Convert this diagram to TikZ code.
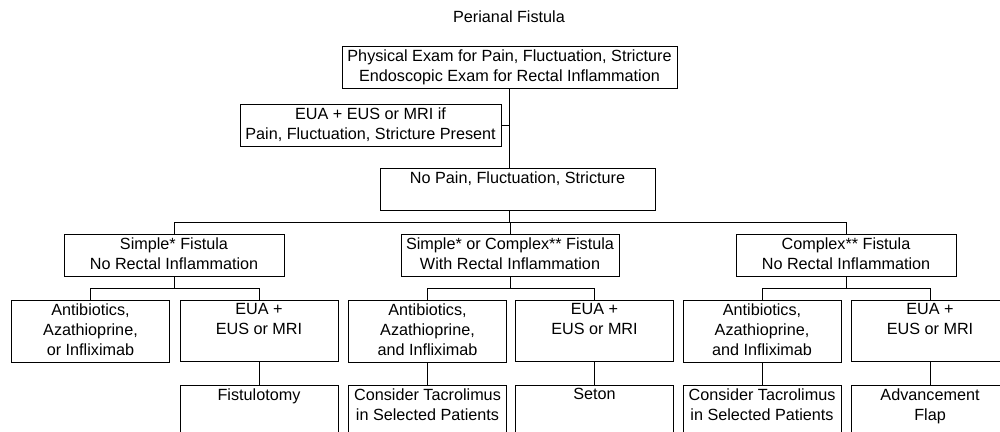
\documentclass[tikz,border=0pt]{standalone}
\usepackage{fontspec}
\setmainfont{Liberation Sans}
\usepackage{tikz}
\usetikzlibrary{calc}
\usetikzlibrary{positioning}
\newcommand{\boxstrut}{\rule[-4pt]{0pt}{20pt}}
\tikzset{box/.style={draw, align=center, anchor=north, inner xsep=2pt, inner ysep=3pt,
  font=\fontsize{16.2}{20}\selectfont,
  execute at begin node=\boxstrut, execute at end node=\boxstrut}}

\begin{document}
\begin{tikzpicture}[x=1pt, y=-1pt, line width=1pt]
\tikzstyle{elbow} = [to path={(\tikztostart) |- ($(\tikztostart)!0.5!(\tikztotarget)$) -| (\tikztotarget)}]
\path[use as bounding box, clip] (0,0) rectangle (1000,431);
\node[font=\fontsize{16.2}{20}\selectfont] (title) at (509,17) {Perianal Fistula};
% exam and first split
\node[box, minimum width=335] (exam) at (509.5,46) {Physical Exam for Pain, Fluctuation, Stricture\\Endoscopic Exam for Rectal Inflammation};
\node[box, minimum width=261] (eua) at (370.5,104) {EUA + EUS or MRI if\\Pain, Fluctuation, Stricture Present};
\node[box, minimum width=275] (nopain) at (517.5,168) {No Pain, Fluctuation, Stricture\\ ~};
% fistula types
\node[box, minimum width=220] (simple) at (174,234) {Simple* Fistula\\No Rectal Inflammation};
\node[box, minimum width=218] (mixed) at (510,234) {Simple* or Complex** Fistula\\With Rectal Inflammation};
\node[box, minimum width=220] (complex) at (846,234) {Complex** Fistula\\No Rectal Inflammation};
% treatments
\node[box, minimum width=158] (abxa) at (90.5,300) {Antibiotics,\\Azathioprine,\\or Infliximab};
\node[box, minimum width=158] (euaa) at (259,300) {EUA +\\EUS or MRI\\ ~};
\node[box, minimum width=158] (abxb) at (427.5,300) {Antibiotics,\\Azathioprine,\\and Infliximab};
\node[box, minimum width=158] (euab) at (594.5,300) {EUA +\\EUS or MRI\\ ~};
\node[box, minimum width=158] (abxc) at (762,300) {Antibiotics,\\Azathioprine,\\and Infliximab};
\node[box, minimum width=158] (euac) at (930,300) {EUA +\\EUS or MRI\\ ~};
% last row
\node[box, minimum width=158] (fistulotomy) at (259,385) {Fistulotomy\\ ~\\ ~};
\node[box, minimum width=158] (tacrob) at (427.5,385) {Consider Tacrolimus\\in Selected Patients\\ ~};
\node[box, minimum width=158] (seton) at (594.5,385) {Seton\\ ~\\ ~};
\node[box, minimum width=158] (tacroc) at (762,385) {Consider Tacrolimus\\in Selected Patients\\ ~};
\node[box, minimum width=158] (flap) at (930,385) {Advancement\\Flap\\ ~};
% connectors
\draw (exam.south) -- (exam.south |- nopain.north);
\draw (eua.east) -- (eua.east -| exam.south);
\draw (nopain.south -| exam.south) to[elbow] (simple.north);
\draw (nopain.south -| exam.south) to[elbow] (mixed.north);
\draw (nopain.south -| exam.south) to[elbow] (complex.north);
\draw (simple.south) to[elbow] (abxa.north);
\draw (simple.south) to[elbow] (euaa.north);
\draw (mixed.south) to[elbow] (abxb.north);
\draw (mixed.south) to[elbow] (euab.north);
\draw (complex.south) to[elbow] (abxc.north);
\draw (complex.south) to[elbow] (euac.north);
\draw (euaa) -- (fistulotomy);
\draw (abxb) -- (tacrob);
\draw (euab) -- (seton);
\draw (abxc) -- (tacroc);
\draw (euac) -- (flap);
\end{tikzpicture}
\end{document}
